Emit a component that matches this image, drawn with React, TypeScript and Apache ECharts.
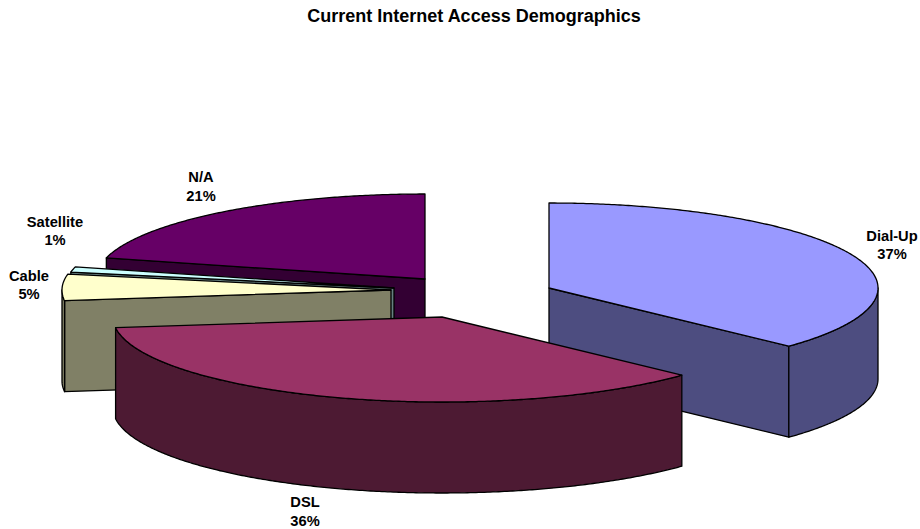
import React, { useEffect, useRef } from "react";
import * as echarts from "echarts";

// Connection types and their share of respondents, in percent.
const categories = ["Dial-Up", "DSL", "Cable", "Satellite", "N/A"];
const shares = [37, 36, 5, 1, 21];

const topColors = ["#9999FF", "#993366", "#FFFFCC", "#CCFFFF", "#660066"];
const wallColors = ["#4D4D80", "#4D1A33", "#808066", "#668080", "#330033"];

// Where each exploded wedge has its apex on the page.
const apexX = [549, 442, 391, 394, 425];
const apexY = [288, 317, 290, 288, 279];

// Centre of each two-line label.
const labelX = [892, 305, 29, 55, 201];
const labelY = [245, 511.5, 285, 231, 186.5];

// Back-to-front painting rank of each wedge.
const paintRank = [3, 4, 2, 1, 0];

const RADIUS_X = 329;
const RADIUS_Y = 85;
const DEPTH = 91;
const FONT = "'Liberation Sans', Arial, sans-serif";

const total = shares.reduce((a, b) => a + b, 0);

const startAngles = shares.map((_, i) =>
  shares.slice(0, i).reduce((a, b) => a + b, 0) / total * 360
);

function rim(cx: number, cy: number, deg: number, drop = 0): number[] {
  const t = (deg * Math.PI) / 180;
  return [cx + RADIUS_X * Math.sin(t), cy - RADIUS_Y * Math.cos(t) + drop];
}

function arc(cx: number, cy: number, from: number, to: number, drop = 0): number[][] {
  const steps = Math.max(2, Math.ceil((to - from) * 2));
  const pts: number[][] = [];
  for (let k = 0; k <= steps; k++) {
    pts.push(rim(cx, cy, from + ((to - from) * k) / steps, drop));
  }
  return pts;
}

function renderWedge(params: any, api: any) {
  const i = params.dataIndex;
  const value = api.value(0);
  const t0 = startAngles[i];
  const t1 = t0 + (value / total) * 360;
  const cx = apexX[i];
  const cy = apexY[i];
  const base = paintRank[i] * 10;
  const edge = { stroke: "#000", lineWidth: 1.3, lineJoin: "round" };
  const children: any[] = [];

  const addFace = (points: number[][], fill: string, z2: number) =>
    children.push({
      type: "polygon",
      shape: { points },
      style: { fill, ...edge },
      z2,
    });

  // Flat cut faces, only those turned towards the viewer.
  const cutFace = (deg: number) => {
    const a = rim(cx, cy, deg);
    addFace(
      [[cx, cy], a, [a[0], a[1] + DEPTH], [cx, cy + DEPTH]],
      wallColors[i],
      base
    );
  };
  if (Math.sin((t0 * Math.PI) / 180) < -1e-6) cutFace(t0);
  if (Math.sin((t1 * Math.PI) / 180) > 1e-6) cutFace(t1);

  // Curved outer wall on the near half of the ellipse.
  const from = Math.max(t0, 90);
  const to = Math.min(t1, 270);
  if (to > from) {
    addFace(
      [...arc(cx, cy, from, to), ...arc(cx, cy, from, to, DEPTH).reverse()],
      wallColors[i],
      base + 1
    );
  }

  // Top surface.
  addFace([[cx, cy], ...arc(cx, cy, t0, t1)], topColors[i], base + 2);

  children.push({
    type: "text",
    z2: 100,
    style: {
      text: `${categories[i]}\n${Math.round((value / total) * 100)}%`,
      x: labelX[i],
      y: labelY[i],
      align: "center",
      verticalAlign: "middle",
      fill: "#000",
      fontFamily: FONT,
      fontWeight: "bold",
      fontSize: 14.7,
      lineHeight: 18.5,
    },
  });

  return { type: "group", children };
}

export default function App() {
  const ref = useRef<HTMLDivElement>(null);

  useEffect(() => {
    document.body.style.margin = "0";
    const chart = echarts.init(ref.current!, null, { renderer: "svg" });
    chart.setOption({
      animation: false,
      backgroundColor: "#fff",
      title: {
        text: "Current Internet Access Demographics",
        left: 469,
        top: 2,
        textAlign: "center",
        textStyle: {
          fontFamily: FONT,
          fontWeight: "bold",
          fontSize: 18,
          color: "#000",
        },
      },
      series: [
        {
          type: "custom",
          coordinateSystem: "none",
          renderItem: renderWedge,
          silent: true,
          data: shares.map((v, i) => ({ name: categories[i], value: [v] })),
        },
      ],
    });
    return () => chart.dispose();
  }, []);

  return <div ref={ref} style={{ width: 920, height: 529 }} />;
}
